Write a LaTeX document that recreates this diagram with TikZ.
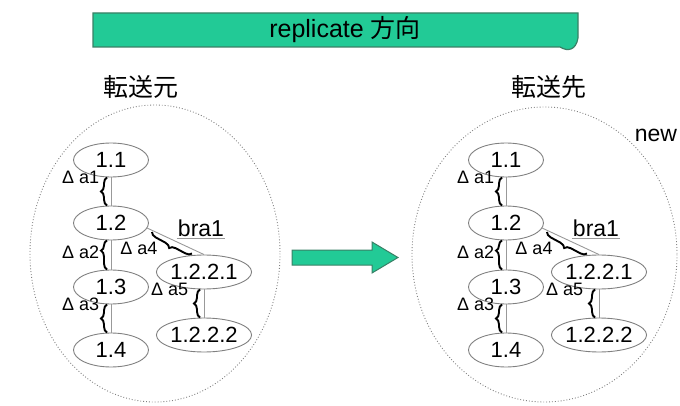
\documentclass[tikz,border=0pt]{standalone}
\usepackage{fontspec}
\setmainfont{Liberation Sans}
\newfontfamily\cjk{Noto Sans CJK JP}
\usetikzlibrary{calc,shapes.geometric,decorations.pathreplacing}
\definecolor{mint}{RGB}{34,202,150}
\definecolor{mintedge}{RGB}{58,128,102}
\newcommand{\fsize}[1]{\fontsize{#1}{#1}\selectfont}
% one version tree, shifted by #1, node names prefixed by #2
\newcommand{\versiontree}[2]{
	\begin{scope}[shift={(#1,0)}]
	\node[ver] (#2v11) at (111,160) {1.1};
	\node[ver] (#2v12) at (111,223) {1.2};
	\node[ver] (#2v13) at (111,287) {1.3};
	\node[ver] (#2v14) at (111,350) {1.4};
	\node[ver] (#2v1221) at (204,272) {1.2.2.1};
	\node[ver] (#2v1222) at (204,335) {1.2.2.2};
	\node[anchor=south, inner sep=1pt, font=\fsize{23}] (#2bra) at (201,238) {bra1};

	\draw[link] (#2v11) -- (#2v12) -- (#2v13) -- (#2v14);
	\draw[link] (#2v1221) -- (#2v1222);
	\draw[link] (#2v12.-8) -- (#2v1221.north);
	\draw[link] (#2bra.south west) -- (#2bra.south east);

	\draw[delta] ([xshift=-4pt]#2v12.north) -- ([xshift=-4pt]#2v11.south)
		node[dlabel, left=7pt] (#2d1) {Δ a1};
	\draw[delta, decoration={aspect=0.65}] ([xshift=-4pt]#2v13.north) -- ([xshift=-4pt]#2v12.south)
		node[dlabel, left=7pt, pos=0.6] (#2d2) {Δ a2};
	\draw[delta] ([xshift=-4pt]#2v14.north) -- ([xshift=-4pt]#2v13.south)
		node[dlabel, left=7pt] (#2d3) {Δ a3};
	\draw[delta] ([xshift=-4pt]#2v1222.north) -- ([xshift=-4pt]#2v1221.south)
		node[dlabel, left=11pt] (#2d5) {Δ a5};
	\draw[delta] ($(#2v1221.north)+(-12,-1)$) -- ($(#2v12.east)+(3,9)$);
	\node[dlabel] (#2d4) at (139,248) {Δ a4};
	\end{scope}
}

\begin{document}
\begin{tikzpicture}[x=1pt,y=-1pt,
	ver/.style={draw=gray, fill=white, ellipse, line width=0.9pt, minimum width=75pt, minimum height=34pt, inner sep=0pt, font=\fsize{22}},
	link/.style={draw=gray!80, line width=0.9pt},
	delta/.style={decorate, decoration={brace, amplitude=6pt}, line width=1.9pt},
	dlabel/.style={font=\fsize{18}, inner sep=0pt},
	region/.style={draw=gray, dotted, line width=0.9pt}]
	\useasboundingbox (0,0) rectangle (680,406);

	% direction banner
	\fill[mint, draw=mintedge, line width=1.2pt] (93,13) -- (578,13) -- (578,38)
		.. controls (576,50) and (568,52) .. (560,47) -- (93,47) -- cycle;
	\node[font=\fsize{25}] (dir) at (345,30) {replicate {\cjk 方向}};

	% source and target repositories
	\draw[region] (155,253.5) ellipse (125 and 148.5);
	\draw[region] (544.5,254.5) ellipse (132.5 and 147.5);
	\node[font=\fsize{25}\cjk] (src) at (141,87) {転送元};
	\node[font=\fsize{25}\cjk] (dst) at (549,87) {転送先};
	\node[font=\fsize{23}] (newtag) at (656,135) {new};

	\versiontree{0}{s}
	\versiontree{395}{t}

	% transfer arrow
	\fill[mint, draw=mintedge, line width=1pt] (292,250) -- (372,250) -- (372,242)
		-- (398,257.5) -- (372,273) -- (372,265) -- (292,265) -- cycle;
\end{tikzpicture}
\end{document}
